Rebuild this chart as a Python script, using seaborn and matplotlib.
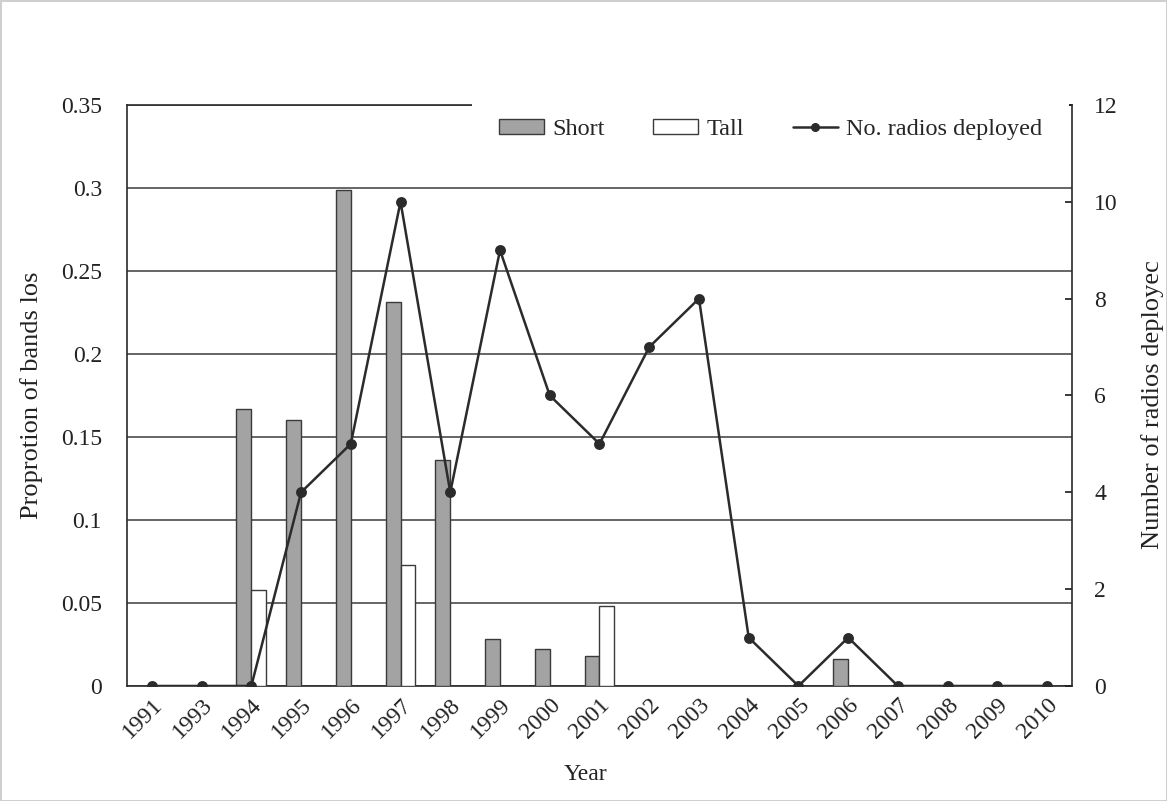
import matplotlib
matplotlib.use("Agg")
import matplotlib.pyplot as plt
from matplotlib.patches import Patch
from matplotlib.lines import Line2D
import seaborn as sns
import pandas as pd

# --- dati ---
years = ["1991", "1993", "1994", "1995", "1996", "1997", "1998", "1999", "2000", "2001",
         "2002", "2003", "2004", "2005", "2006", "2007", "2008", "2009", "2010"]
short = [0, 0, 0.167, 0.160, 0.299, 0.231, 0.136, 0.028, 0.022, 0.018,
         0, 0, 0, 0, 0.016, 0, 0, 0, 0]
tall = [0, 0, 0.058, 0, 0, 0.073, 0, 0, 0, 0.048,
        0, 0, 0, 0, 0, 0, 0, 0, 0]
radios = [0, 0, 0, 4, 5, 10, 4, 9, 6, 5, 7, 8, 1, 0, 1, 0, 0, 0, 0]
left_ticks = [0, 0.05, 0.1, 0.15, 0.2, 0.25, 0.3, 0.35]
left_labels = ["0", "0.05", "0.1", "0.15", "0.2", "0.25", "0.3", "0.35"]
right_ticks = [0, 2, 4, 6, 8, 10, 12]

sns.set_theme(style="white")
plt.rcParams['font.family'] = ['Liberation Serif', 'DejaVu Serif']

TXT = "#222222"
EDGE = "#3a3a3a"

df = pd.DataFrame({
    "Year": years * 2,
    "value": short + tall,
    "type": ["Short"] * len(years) + ["Tall"] * len(years),
})

fig = plt.figure(figsize=(11.67, 8.01), dpi=100)
fig.patch.set_edgecolor('#cfcfcf')
fig.patch.set_linewidth(2)
ax = fig.add_axes([0.1088, 0.1436, 0.8098, 0.7254])

sns.barplot(data=df, x="Year", y="value", hue="type", order=years,
            palette={"Short": "#a3a3a3", "Tall": "white"}, width=0.6,
            edgecolor=EDGE, linewidth=1, ax=ax, legend=False, zorder=3)

ax.set_ylim(0, 0.35)
ax.set_yticks(left_ticks)
ax.set_yticklabels(left_labels)
ax.yaxis.grid(True, color="#3c3c3c", linewidth=1.1, zorder=0)
ax.set_axisbelow(True)
ax.tick_params(axis='y', length=0, pad=18, labelsize=17, colors=TXT)
ax.tick_params(axis='x', length=0, pad=6, labelsize=17, colors=TXT)
for lab in ax.get_xticklabels():
    lab.set_rotation(45)
    lab.set_ha('right')
    lab.set_va('top')
    lab.set_rotation_mode('anchor')
ax.set_xlabel("Year", fontsize=17, color=TXT)
ax.xaxis.set_label_coords(0.485, -0.153)
ax.xaxis.label.set_va('center')
ax.set_ylabel("Proprotion of bands los", fontsize=19, color=TXT)
ax.yaxis.set_label_coords(-0.1005, 0.5)
ax.yaxis.label.set_va('center')
for s in ["left", "bottom", "top"]:
    ax.spines[s].set_visible(True)
    ax.spines[s].set_color("#2a2a2a")
    ax.spines[s].set_linewidth(1.2)
ax.spines["right"].set_visible(False)

# --- asse secondario: radio ---
ax2 = ax.twinx()
sns.pointplot(x=years, y=radios, order=years, ax=ax2, color="#2b2b2b",
              markers="o", linestyles="-", markersize=6.5, linewidth=1.8)
ax2.set_xlim(-0.5, len(years) - 0.5)
ax2.set_ylim(0, 12)
ax2.set_yticks(right_ticks)
ax2.tick_params(axis='y', direction='in', length=5, pad=16, labelsize=17,
                colors=TXT, right=True)
ax2.set_ylabel("Number of radios deployec", fontsize=19, color=TXT, rotation=90)
ax2.yaxis.set_label_position("right")
ax2.yaxis.set_label_coords(1.085, 0.485)
ax2.yaxis.label.set_va('center')
ax2.grid(False)
for s in ["left", "bottom", "top"]:
    ax2.spines[s].set_visible(False)
ax2.spines["right"].set_visible(True)
ax2.spines["right"].set_color("#2a2a2a")
ax2.spines["right"].set_linewidth(1.2)

handles = [
    Patch(facecolor="#a3a3a3", edgecolor=EDGE, label="Short"),
    Patch(facecolor="white", edgecolor=EDGE, label="Tall"),
    Line2D([0], [0], color="#2b2b2b", marker="o", markersize=5.5, linewidth=1.8,
           label="No. radios deployed"),
]
leg = ax2.legend(handles=handles, ncol=3, loc="upper right",
                 bbox_to_anchor=(0.997, 1.022), fontsize=17.5, frameon=True,
                 facecolor="white", edgecolor="white", framealpha=1,
                 handlelength=1.85, handleheight=0.55, columnspacing=2.0,
                 handletextpad=0.35, borderpad=1.1, borderaxespad=0)
leg.get_frame().set_linewidth(0)

fig.savefig("out.png", dpi=100)
